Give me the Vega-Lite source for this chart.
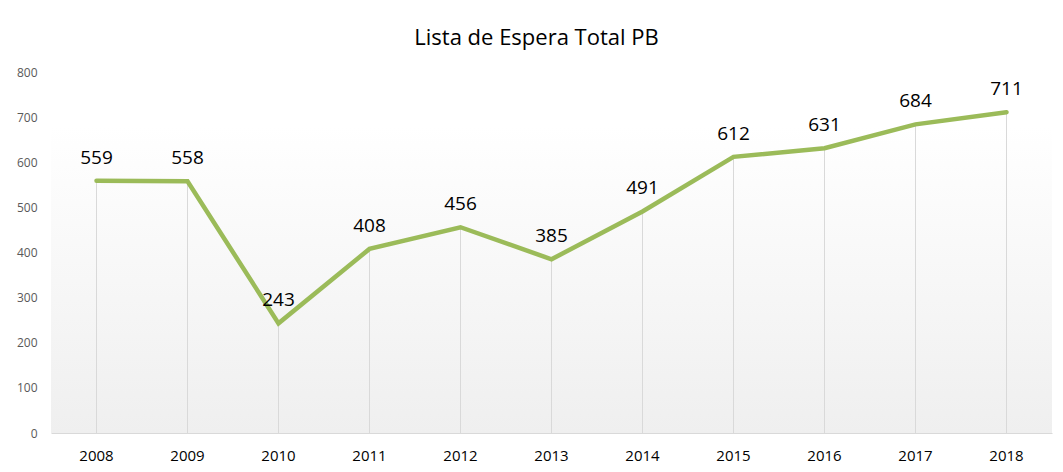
{
  "$schema": "https://vega.github.io/schema/vega-lite/v6.json",
  "autosize": "none",
  "width": 1001,
  "height": 361,
  "padding": {"left": 51, "top": 72, "right": 11, "bottom": 39},
  "background": "white",
  "config": {
    "view": {"stroke": null, "fill": {"gradient": "linear", "x1": 0, "y1": 0, "x2": 0, "y2": 1, "stops": [{"offset": 0, "color": "#ffffff"}, {"offset": 0.15, "color": "#ffffff"}, {"offset": 1, "color": "#efefef"}]}},
    "font": "Open Sans"
  },
  "title": {"text": "Lista de Espera Total PB", "fontSize": 22, "fontWeight": "normal", "color": "#000000", "font": "Open Sans", "offset": 16, "dx": -15},
  "data": {"values": [
    {"year": "2008", "value": 559},
    {"year": "2009", "value": 558},
    {"year": "2010", "value": 243},
    {"year": "2011", "value": 408},
    {"year": "2012", "value": 456},
    {"year": "2013", "value": 385},
    {"year": "2014", "value": 491},
    {"year": "2015", "value": 612},
    {"year": "2016", "value": 631},
    {"year": "2017", "value": 684},
    {"year": "2018", "value": 711}
  ]},
  "encoding": {
    "x": {"field": "year", "type": "ordinal", "scale": {"type": "band", "paddingInner": 0, "paddingOuter": 0},
      "axis": {"title": null, "labelAngle": 0, "labelFontSize": 15, "labelColor": "#000000", "ticks": false, "domainColor": "#d9d9d9", "labelPadding": 15, "grid": false}},
    "y": {"field": "value", "type": "quantitative", "scale": {"domain": [0, 800]},
      "axis": {"title": null, "values": [0,100,200,300,400,500,600,700,800], "labelFontSize": 12, "labelColor": "#595959", "domain": false, "ticks": false, "grid": false, "labelPadding": 14}}
  },
  "layer": [
    {"mark": {"type": "rule", "color": "#d9d9d9", "strokeWidth": 1}, "encoding": {"y2": {"datum": 0}}},
    {"mark": {"type": "line", "color": "#9BBB59", "strokeWidth": 4.5, "strokeCap": "round", "strokeJoin": "miter"}},
    {"mark": {"type": "text", "fontSize": 19, "color": "#000000", "baseline": "bottom", "dy": -13}, "encoding": {"text": {"field": "value", "type": "quantitative"}}}
  ]
}
